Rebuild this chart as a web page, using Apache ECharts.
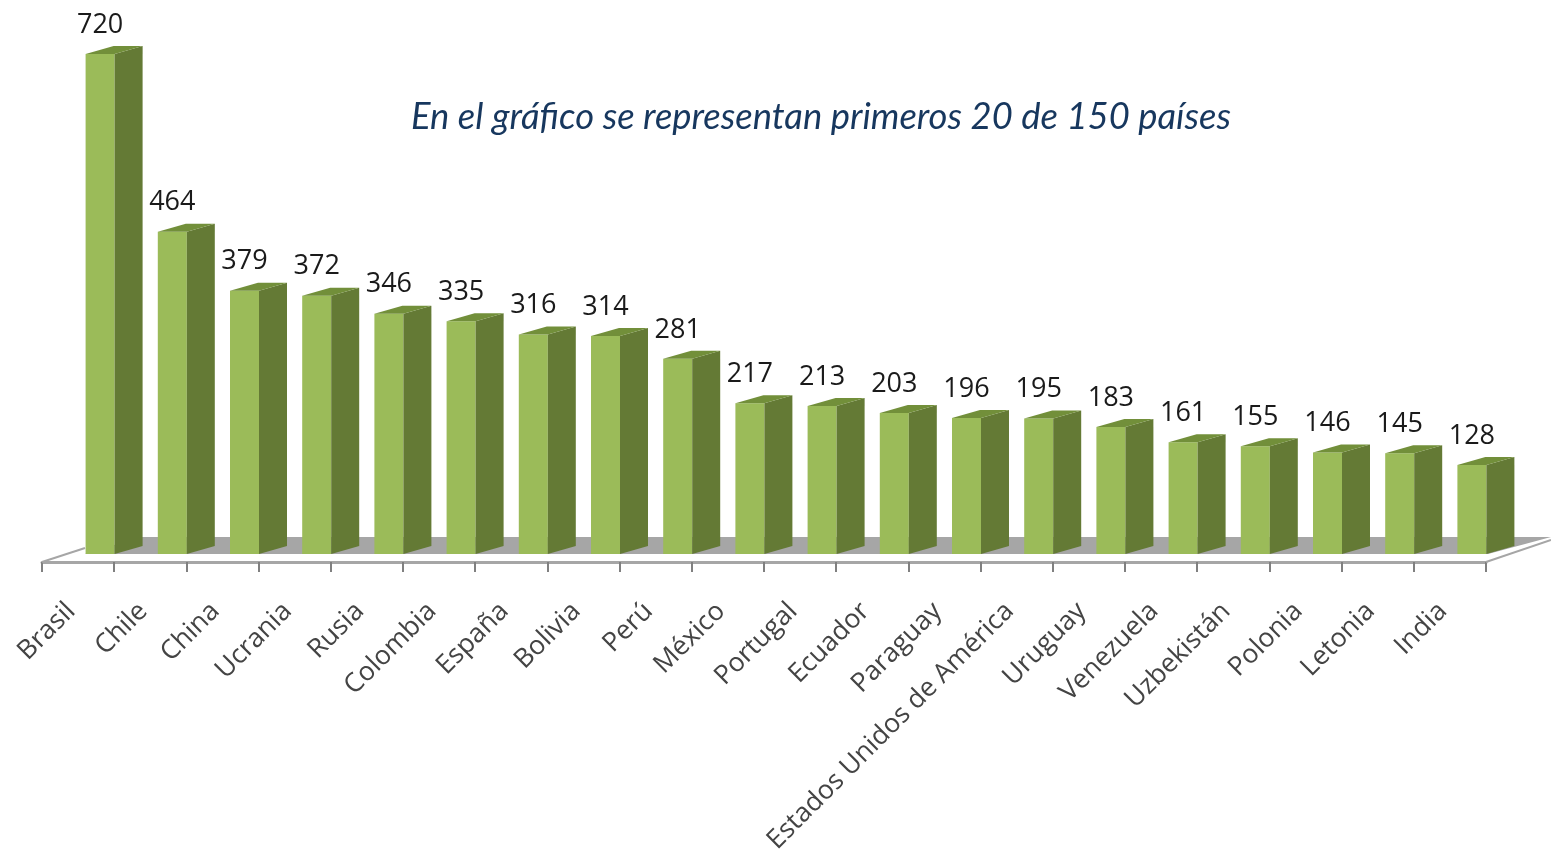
<!DOCTYPE html>
<html>
<head>
<meta charset="utf-8">
<style>
  html, body { margin: 0; padding: 0; background: #fff; }
  #chart { width: 1551px; height: 852px; }
</style>
<script src="https://cdn.jsdelivr.net/npm/echarts@6/dist/echarts.min.js"></script>
</head>
<body>
<div id="chart"></div>
<script>
const categories = ['Brasil', 'Chile', 'China', 'Ucrania', 'Rusia', 'Colombia', 'España', 'Bolivia', 'Perú', 'México',
  'Portugal', 'Ecuador', 'Paraguay', 'Estados Unidos de América', 'Uruguay', 'Venezuela', 'Uzbekistán', 'Polonia', 'Letonia', 'India']
const values = [720, 464, 379, 372, 346, 335, 316, 314, 281, 217, 213, 203, 196, 195, 183, 161, 155, 146, 145, 128]
const titleText = 'En el gráfico se representan primeros 20 de 150 países'

// fake 3d look, sizes in px
const barOffset = 7.5
const barWidth = 29
const depthX = 28
const depthY = 8

function renderFloor(params, api) {
  const left = params.coordSys.x
  const right = left + params.coordSys.width
  const y0 = api.coord([0, 0])[1]
  return {
    type: 'group',
    children: [{
      type: 'polygon',
      shape: { points: [[left + 43, y0], [right + 2, y0], [right + 65, y0 - 17], [left + 98, y0 - 17]] },
      style: { fill: '#a6a6a6' }
    }, {
      type: 'polyline',
      shape: { points: [[left, y0 + 8], [left + 43, y0 - 6]] },
      style: { stroke: '#a6a6a6', lineWidth: 2, fill: null }
    }, {
      type: 'polyline',
      shape: { points: [[right, y0 + 8], [right + 65, y0 - 14]] },
      style: { stroke: '#a6a6a6', lineWidth: 2, fill: null }
    }]
  }
}

function renderBar(params, api) {
  const base = api.coord([api.value(0), 0])
  const top = api.coord([api.value(0), api.value(1)])
  const x1 = base[0] + barOffset
  const x2 = x1 + barWidth
  const y1 = top[1]
  const y0 = base[1]
  return {
    type: 'group',
    children: [{
      type: 'rect',
      shape: { x: x1, y: y1, width: barWidth, height: y0 - y1 },
      style: { fill: '#9bbb59' }
    }, {
      type: 'polygon',
      shape: { points: [[x2, y1], [x2 + depthX, y1 - depthY], [x2 + depthX, y0 - depthY], [x2, y0]] },
      style: { fill: '#647a35' }
    }, {
      type: 'polygon',
      shape: { points: [[x1, y1], [x1 + depthX, y1 - depthY], [x2 + depthX, y1 - depthY], [x2, y1]] },
      style: { fill: '#728f3a' }
    }, {
      type: 'text',
      style: {
        text: String(api.value(1)),
        x: x1 + barWidth / 2,
        y: y1 - 29,
        align: 'center',
        verticalAlign: 'middle',
        fill: '#1a1a1a',
        font: '27px "Open Sans"'
      }
    }]
  }
}

const chart = echarts.init(document.getElementById('chart'))
chart.setOption({
  animation: false,
  backgroundColor: '#fff',
  title: {
    text: titleText,
    left: 411,
    top: 99,
    padding: 0,
    textStyle: {
      color: '#17375e',
      fontFamily: 'Lato',
      fontStyle: 'italic',
      fontWeight: 'normal',
      fontSize: 36.4
    }
  },
  grid: { left: 42, top: 54, width: 1444, height: 500, outerBoundsMode: 'none' },
  xAxis: {
    type: 'category',
    data: categories,
    offset: 8,
    axisLine: { onZero: false, lineStyle: { color: '#a6a6a6', width: 3 } },
    axisTick: { show: true, length: 10, alignWithLabel: false, lineStyle: { color: '#808080', width: 2 } },
    axisLabel: {
      interval: 0,
      rotate: 45,
      margin: 38,
      padding: [0, 10, 0, 0],
      color: '#444',
      fontFamily: 'Open Sans',
      fontSize: 26.5
    }
  },
  yAxis: { type: 'value', min: 0, max: 720, show: false },
  series: [{
    type: 'custom',
    name: 'piso',
    z: 1,
    silent: true,
    renderItem: renderFloor,
    data: [[0, 0]]
  }, {
    type: 'custom',
    name: 'países',
    z: 2,
    renderItem: renderBar,
    encode: { x: 0, y: 1 },
    data: values.map((v, i) => [i, v])
  }]
})
</script>
</body>
</html>
